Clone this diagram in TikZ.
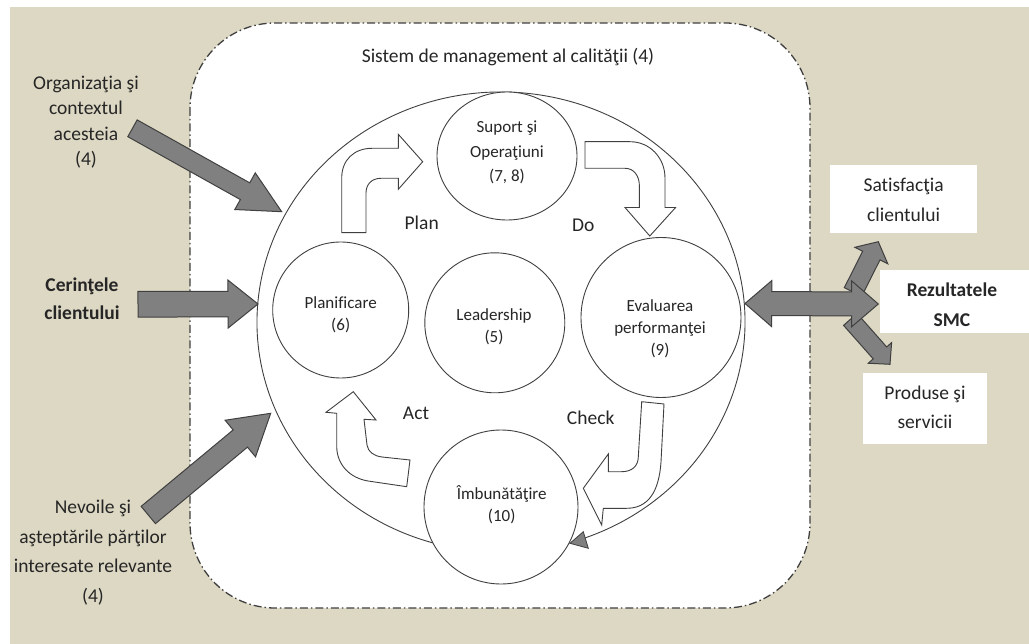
\documentclass[tikz,border=0pt]{standalone}
\usepackage{fontspec}
\setmainfont{Carlito}[Ligatures={TeX,NoCommon}]
\usetikzlibrary{calc,shapes.geometric}

\definecolor{sand}{RGB}{221,216,195}
\definecolor{ink}{RGB}{38,38,38}
\definecolor{edge}{RGB}{64,64,64}
\definecolor{blockfill}{RGB}{128,128,128}

\tikzset{
  txt/.style={text=ink, align=center, inner sep=0pt},
  big/.style={font=\fontsize{19.5}{#1}\selectfont},
  small/.style={font=\fontsize{17}{#1}\selectfont},
  frame/.style={draw=edge, fill=white, line width=1.3pt, rounded corners=85pt,
    dash pattern=on 8pt off 3pt on 1.5pt off 3pt},
  ring/.style={draw=edge, line width=0.9pt},
  bubble/.style={circle, draw=edge, fill=white, line width=0.9pt, inner sep=0pt},
  oval/.style={ellipse, draw=edge, fill=white, line width=0.9pt, inner sep=0pt},
  bentarrow/.style={draw=edge, fill=white, line width=0.9pt, line join=miter},
  block/.style={draw=edge, fill=blockfill, line width=1pt, line join=miter},
  outbox/.style={rectangle, fill=white, inner sep=0pt},
}

% straight block arrow: tail, tip, shaft half width, head half width, head length, name
\newcommand\blockarrow[6]{%
  \coordinate (#6-base) at ($(#2)!#5!(#1)$);
  \filldraw[block] ($(#1)!#3!90:(#2)$) -- ($(#6-base)!#3!-90:(#1)$)
    -- ($(#6-base)!#4!-90:(#1)$) -- (#2) -- ($(#6-base)!#4!90:(#1)$)
    -- ($(#6-base)!#3!90:(#1)$) -- ($(#1)!#3!-90:(#2)$) -- cycle;
}
% double headed block arrow: end a, end b, shaft half width, head half width, head length, name
\newcommand\twinarrow[6]{%
  \coordinate (#6-a) at ($(#1)!#5!(#2)$);
  \coordinate (#6-b) at ($(#2)!#5!(#1)$);
  \filldraw[block] (#1) -- ($(#6-a)!#4!90:(#2)$) -- ($(#6-a)!#3!90:(#2)$)
    -- ($(#6-b)!#3!-90:(#1)$) -- ($(#6-b)!#4!-90:(#1)$) -- (#2)
    -- ($(#6-b)!#4!90:(#1)$) -- ($(#6-b)!#3!90:(#1)$)
    -- ($(#6-a)!#3!-90:(#2)$) -- ($(#6-a)!#4!-90:(#2)$) -- cycle;
}

\begin{document}
\begin{tikzpicture}[x=1pt, y=-1pt]
\useasboundingbox (0,0) rectangle (1029,644);
\fill[white] (0,0) rectangle (1029,644);
\fill[sand] (10,7) rectangle (1029,644);

% system boundary
\draw[frame] (190,23) rectangle (810,608);
\node[txt, big=24] (title) at (508,57) {Sistem de management al calităţii (4)};

% PDCA ring with its arrow head
\coordinate (pdca) at (501,322);
\draw[ring] ($(pdca)+(100:244 and 230)$) arc[start angle=100, end angle=429.9, x radius=244, y radius=230];
\filldraw[draw=edge, fill=blockfill, line width=0.8pt, line join=miter]
  (570,543.3) -- (583.3,531.7) -- (588.3,548.3) -- cycle;

% clause bubbles
\node[oval, minimum width=140pt, minimum height=128pt] (sup) at (507,156) {};
\node[bubble, minimum size=136pt] (pla) at (340.7,310) {};
\node[bubble, minimum size=140pt] (lea) at (494.8,322.8) {};
\node[bubble, minimum size=160pt] (eva) at (661,317.5) {};
\node[bubble, minimum size=154pt] (imb) at (501,507) {};

\node[txt, small=24.2] (supT) at (507,152.5) {Suport şi\\Operaţiuni\\(7, 8)};
\node[txt, small=22.4] (plaT) at (340.7,314.5) {Planificare\\(6)};
\node[txt, small=22.4] (leaT) at (494,326.5) {Leadership\\(5)};
\node[txt, small=22.4] (evaT) at (660,328.7) {Evaluarea\\performanţei\\(9)};
\node[txt, small=22.7] (imbT) at (501.7,504.7) {Îmbunătăţire\\(10)};

% bent cycle arrows
\draw[bentarrow] (341.7,232.7) -- (341.7,178) .. controls (341.7,160) and (354,148.3) .. (372,148.3)
  -- (398.3,148.3) -- (398.3,134.3) -- (422.7,161.7) -- (398.3,189.3) -- (398.3,178.3)
  -- (381,178.3) .. controls (372,178.3) and (366,184) .. (366,193) -- (366,232.7) -- cycle;
\draw[bentarrow] (585,141.7) -- (630,141.7) .. controls (650,141.7) and (665,158) .. (665,178)
  -- (665,207.5) -- (675.6,207.5) -- (649.8,236) -- (625,207.5) -- (639.4,207.5)
  -- (639.4,186) .. controls (639.4,176) and (634,168.3) .. (625,168.3) -- (585,168.3) -- cycle;
\draw[bentarrow] (641.7,401.7) -- (664,404) -- (661,462) .. controls (659,492) and (648,508.3) .. (626.7,508.3)
  -- (603.3,508.3) -- (601.7,525) -- (583.3,488.3) -- (608.3,454) -- (608.3,471.7)
  -- (621.7,471.7) .. controls (632,471.7) and (638.3,466) .. (638.3,456.7) -- cycle;
\draw[bentarrow] (353.3,391.7) -- (376,420) -- (364,419.3) -- (367,445) .. controls (368,452) and (374,456) .. (382,457)
  -- (410,460) -- (406.7,486.7) -- (368,481) .. controls (350,478) and (337,465) .. (336.7,446.7)
  -- (336.7,413.3) -- (326,412.3) -- cycle;

\node[txt, big=24] (plan) at (421.7,223.3) {Plan};
\node[txt, big=24] (do) at (583.3,225) {Do};
\node[txt, big=24] (act) at (416,413.3) {Act};
\node[txt, big=24] (check) at (590.7,417.3) {Check};

% inputs
\node[txt, big=25.5] (org) at (86,122) {Organizaţia şi\\contextul\\acesteia\\(4)};
\node[txt, font=\bfseries\fontsize{19.5}{28}\selectfont] (cer) at (82,298.5) {Cerinţele\\clientului};
\node[txt, big=29.7] (nev) at (93,552.5) {Nevoile şi\\aşteptările părţilor\\interesate relevante\\(4)};

\coordinate (orgTail) at (132.5,128.3);
\coordinate (orgTip) at (281.7,211.7);
\coordinate (cerTail) at (138,304.3);
\coordinate (cerTip) at (258,304);
\coordinate (nevTail) at (148.3,515);
\coordinate (nevTip) at (270.7,413.3);
\blockarrow{orgTail}{orgTip}{9.6pt}{21pt}{42pt}{orgA}
\blockarrow{cerTail}{cerTip}{12.8pt}{24pt}{30pt}{cerA}
\blockarrow{nevTail}{nevTip}{11.2pt}{23.8pt}{39.5pt}{nevA}

% outputs
\node[outbox, minimum width=147pt, minimum height=68pt] (sat) at (903.5,199) {};
\node[outbox, minimum width=149pt, minimum height=63pt] (rez) at (954.5,301.5) {};
\node[outbox, minimum width=124pt, minimum height=71pt] (pro) at (925,408.5) {};
\node[txt, big=30] (satT) at (903.6,200) {Satisfacţia\\clientului};
\node[txt, font=\bfseries\fontsize{19.5}{30}\selectfont] (rezT) at (952,305) {Rezultatele\\SMC};
\node[txt, big=28.7] (proT) at (925,407.5) {Produse şi\\servicii};

\coordinate (hub) at (853,292);
\coordinate (hubLow) at (850.3,319.4);
\coordinate (satTip) at (878.3,241.7);
\coordinate (proTip) at (890,364.3);
\coordinate (ringEnd) at (745,303.5);
\coordinate (rezTip) at (878.3,304);
\blockarrow{hub}{satTip}{9.7pt}{18.4pt}{15.5pt}{satA}
\blockarrow{hubLow}{proTip}{9pt}{15.6pt}{15.2pt}{proA}
\twinarrow{ringEnd}{rezTip}{12pt}{23pt}{26.7pt}{rezA}
\end{tikzpicture}
\end{document}
